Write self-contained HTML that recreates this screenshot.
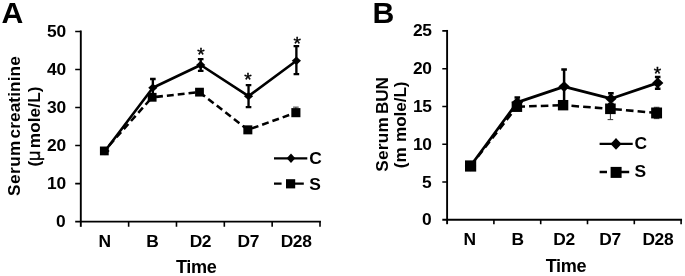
<!DOCTYPE html>
<html><head><meta charset="utf-8"><title>Figure</title>
<style>
html,body{margin:0;padding:0;background:#fff}
svg{display:block;font-family:"Liberation Sans",Arial,Helvetica,sans-serif;fill:#000}
</style></head>
<body>
<svg width="685" height="276" viewBox="0 0 685 276">
<rect width="685" height="276" fill="#fff"/>
<g stroke="#000" stroke-width="1.9" fill="none" stroke-linecap="butt" transform="translate(0 0.35)">
<path d="M80.8 30.15V226.5"/>
<path d="M75.2 221.3H320.95"/>
<path d="M75.2 183.26H80.8M75.2 145.22H80.8M75.2 107.18H80.8M75.2 69.14H80.8M75.2 31.1H80.8M128.64 221.3V226.5M176.48 221.3V226.5M224.32 221.3V226.5M272.16 221.3V226.5M320 221.3V226.5" stroke-width="1.6"/>
</g>
<g font-size="17.4" font-weight="bold" text-anchor="end">
<text x="65.7" y="227" font-size="17.4" font-weight="bold" text-anchor="end">0</text>
<text x="65.7" y="188.96" font-size="17.4" font-weight="bold" text-anchor="end" letter-spacing="-0.38">10</text>
<text x="65.7" y="150.92" font-size="17.4" font-weight="bold" text-anchor="end" letter-spacing="-0.38">20</text>
<text x="65.7" y="112.88" font-size="17.4" font-weight="bold" text-anchor="end" letter-spacing="-0.38">30</text>
<text x="65.7" y="74.84" font-size="17.4" font-weight="bold" text-anchor="end" letter-spacing="-0.38">40</text>
<text x="65.7" y="36.8" font-size="17.4" font-weight="bold" text-anchor="end" letter-spacing="-0.38">50</text>
</g>
<g font-size="17.4" font-weight="bold" text-anchor="middle">
<text x="104.72" y="247" font-size="17.4" font-weight="bold" text-anchor="middle">N</text>
<text x="152.56" y="247" font-size="17.4" font-weight="bold" text-anchor="middle">B</text>
<text x="200.4" y="247" font-size="17.4" font-weight="bold" text-anchor="middle" letter-spacing="-0.38">D2</text>
<text x="248.24" y="247" font-size="17.4" font-weight="bold" text-anchor="middle" letter-spacing="-0.38">D7</text>
<text x="296.08" y="247" font-size="17.4" font-weight="bold" text-anchor="middle" letter-spacing="-0.38">D28</text>
<text x="196.2" y="273.2" font-size="18.1" font-weight="bold" text-anchor="middle" letter-spacing="-0.38">Time</text>
</g>
<text transform="translate(19.6 126.05) rotate(-90)" font-size="17.2" font-weight="bold" text-anchor="middle"><tspan letter-spacing="0.45">Seru</tspan>m<tspan dx="-2.7" letter-spacing="0.1"> creatinine</tspan></text>
<text transform="translate(40 126.5) rotate(-90)" font-size="17.2" font-weight="bold" text-anchor="middle" letter-spacing="-0.1">(<tspan font-weight="normal" font-size="18" stroke="#000" stroke-width="0.4">μ</tspan><tspan dx="-2.45" letter-spacing="0.1"> mole/L)</tspan></text>
<text x="1.4" y="22.5" font-size="30.2" font-weight="bold">A</text>
<g stroke="#000" stroke-width="2.35" fill="none">
<path d="M152.86 79.03V96.53M150.06 79.03h5.6M150.06 96.53h5.6M200.7 59.17V70.89M197.9 59.17h5.6M197.9 70.89h5.6M248.54 85.19V107.1M245.74 85.19h5.6M245.74 107.1h5.6M296.38 46.16V74.16M293.58 46.16h5.6M293.58 74.16h5.6"/>
</g>
<path d="M295.88 107.14V112.66M293.08 107.14h5.6" stroke="#333" stroke-width="1" fill="none"/>
<g fill="none" stroke="#000" stroke-width="2.55" stroke-dasharray="6.9 4">
<path d="M104.32 150.93L152.16 97.29" stroke-dashoffset="3.5"/>
<path d="M152.16 97.29L199.5 92.15" stroke-dashoffset="7"/>
<path d="M199.5 92.15L247.84 129.85" stroke-dashoffset="10.8"/>
<path d="M247.84 129.85L295.88 112.66" stroke-dashoffset="6.6"/>
</g>
<polyline points="105.02,150.93 152.86,87.78 200.7,65.03 248.54,96.15 296.38,60.77" fill="none" stroke="#000" stroke-width="2.6" stroke-linejoin="round"/>
<rect x="99.92" y="146.53" width="8.8" height="8.8"/>
<rect x="147.76" y="92.89" width="8.8" height="8.8"/>
<rect x="195.1" y="87.75" width="8.8" height="8.8"/>
<rect x="243.34" y="125.35" width="9" height="9"/>
<rect x="291.33" y="108.11" width="9.1" height="9.1"/>
<path d="M100.42 150.93L105.02 146.73L109.62 150.93L105.02 155.13Z"/>
<path d="M148.26 87.78L152.86 83.58L157.46 87.78L152.86 91.98Z"/>
<path d="M196.1 65.03L200.7 60.83L205.3 65.03L200.7 69.23Z"/>
<path d="M243.94 96.15L248.54 91.95L253.14 96.15L248.54 100.35Z"/>
<path d="M291.78 60.77L296.38 56.57L300.98 60.77L296.38 64.97Z"/>
<text x="200.9" y="60.7" font-size="19" text-anchor="middle" stroke="#000" stroke-width="0.45">*</text>
<text x="248" y="86.2" font-size="19" text-anchor="middle" stroke="#000" stroke-width="0.45">*</text>
<text x="297.1" y="49.5" font-size="19" text-anchor="middle" stroke="#000" stroke-width="0.45">*</text>
<path d="M274 158.3H307.3" stroke="#000" stroke-width="2.25"/>
<path d="M286.7 158.3L291 153.6L295.3 158.3L291 163Z"/>
<text x="309.3" y="163.6" font-size="17.4" font-weight="bold">C</text>
<path d="M274 183.6H281.6M295 183.6H303.8" stroke="#000" stroke-width="2.25"/>
<rect x="286" y="179.2" width="9.2" height="9.2"/>
<text x="309.3" y="189.9" font-size="17.4" font-weight="bold">S</text>
<g stroke="#000" stroke-width="1.9" fill="none" stroke-linecap="butt" transform="translate(0 0.3)">
<path d="M447.1 29.65V223.9"/>
<path d="M442.3 219.5H682.05"/>
<path d="M442.3 181.72H447.1M442.3 143.94H447.1M442.3 106.16H447.1M442.3 68.38H447.1M442.3 30.6H447.1M493.9 219.5V223.9M540.7 219.5V223.9M587.5 219.5V223.9M634.3 219.5V223.9M681.1 219.5V223.9" stroke-width="1.6"/>
</g>
<g font-size="17.4" font-weight="bold" text-anchor="end">
<text x="431.6" y="225.3" font-size="17.4" font-weight="bold" text-anchor="end">0</text>
<text x="431.6" y="187.52" font-size="17.4" font-weight="bold" text-anchor="end">5</text>
<text x="431.6" y="149.74" font-size="17.4" font-weight="bold" text-anchor="end" letter-spacing="-0.38">10</text>
<text x="431.6" y="111.96" font-size="17.4" font-weight="bold" text-anchor="end" letter-spacing="-0.38">15</text>
<text x="431.6" y="74.18" font-size="17.4" font-weight="bold" text-anchor="end" letter-spacing="-0.38">20</text>
<text x="431.6" y="36.4" font-size="17.4" font-weight="bold" text-anchor="end" letter-spacing="-0.38">25</text>
</g>
<g font-size="17.4" font-weight="bold" text-anchor="middle">
<text x="469.8" y="244.6" font-size="17.4" font-weight="bold" text-anchor="middle">N</text>
<text x="517.8" y="244.6" font-size="17.4" font-weight="bold" text-anchor="middle">B</text>
<text x="564.1" y="244.6" font-size="17.4" font-weight="bold" text-anchor="middle" letter-spacing="-0.38">D2</text>
<text x="610.1" y="244.6" font-size="17.4" font-weight="bold" text-anchor="middle" letter-spacing="-0.38">D7</text>
<text x="657.8" y="244.6" font-size="17.4" font-weight="bold" text-anchor="middle" letter-spacing="-0.38">D28</text>
<text x="565.9" y="272.3" font-size="18.1" font-weight="bold" text-anchor="middle" letter-spacing="-0.38">Time</text>
</g>
<text transform="translate(387.6 124.4) rotate(-90)" font-size="17.2" font-weight="bold" text-anchor="middle" letter-spacing="-0.1"><tspan letter-spacing="0.25">Seru</tspan>m <tspan dx="-1.5">BUN</tspan></text>
<text transform="translate(406.4 124.9) rotate(-90)" font-size="17.2" font-weight="bold" text-anchor="middle" letter-spacing="-0.1">(m <tspan dx="0.7">mole/L)</tspan></text>
<text x="372.6" y="22.5" font-size="30.2" font-weight="bold">B</text>
<g stroke="#000" stroke-width="2.5" fill="none">
<path d="M517.3 97.4V107.37M514.5 97.4h5.6M514.5 107.37h5.6M564.1 69.44V103.74M561.3 69.44h5.6M561.3 103.74h5.6M610.9 93.24V104.12M608.1 93.24h5.6M608.1 104.12h5.6M657.7 77.07V88.71M654.9 77.07h5.6M654.9 88.71h5.6"/>
</g>
<path d="M610.4 98V119.61M607.6 98h5.6M607.6 119.61h5.6M656.6 107.29V118.63M653.8 107.29h5.6M653.8 118.63h5.6" stroke="#333" stroke-width="1" fill="none"/>
<g fill="none" stroke="#000" stroke-width="2.55" stroke-dasharray="7.6 4.1">
<path d="M470.6 166L516.9 106.69" stroke-dashoffset="0"/>
<path d="M516.9 106.69L563.1 105.18" stroke-dashoffset="11.2"/>
<path d="M563.1 105.18L610.4 108.8" stroke-dashoffset="3.3"/>
<path d="M610.4 108.8L656.6 112.96" stroke-dashoffset="7.8"/>
</g>
<polyline points="470.5,166 517.3,102.38 564.1,86.59 610.9,98.68 657.7,82.89" fill="none" stroke="#000" stroke-width="2.75" stroke-linejoin="round"/>
<rect x="465" y="160.4" width="11.2" height="11.2"/>
<rect x="511.65" y="101.44" width="10.5" height="10.5"/>
<rect x="557.9" y="99.98" width="10.4" height="10.4"/>
<rect x="605.1" y="103.5" width="10.6" height="10.6"/>
<rect x="651.15" y="107.51" width="10.9" height="10.9"/>
<path d="M464.8 166L470.5 160.7L476.2 166L470.5 171.3Z"/>
<path d="M511.6 102.38L517.3 97.08L523 102.38L517.3 107.68Z"/>
<path d="M558.4 86.59L564.1 81.29L569.8 86.59L564.1 91.89Z"/>
<path d="M605.2 98.68L610.9 93.38L616.6 98.68L610.9 103.98Z"/>
<path d="M652 82.89L657.7 77.59L663.4 82.89L657.7 88.19Z"/>
<text x="657.5" y="79.9" font-size="19" text-anchor="middle" stroke="#000" stroke-width="0.45">*</text>
<path d="M599.6 143.9H632.7" stroke="#000" stroke-width="2.4"/>
<path d="M610.5 143.9L616 138L621.5 143.9L616 149.8Z"/>
<text x="634.5" y="148.6" font-size="17.4" font-weight="bold">C</text>
<path d="M599.6 172H607M621 172H629.2" stroke="#000" stroke-width="2.4"/>
<rect x="610.6" y="166.9" width="11" height="11"/>
<text x="634.5" y="176.7" font-size="17.4" font-weight="bold">S</text>
</svg>
</body></html>
